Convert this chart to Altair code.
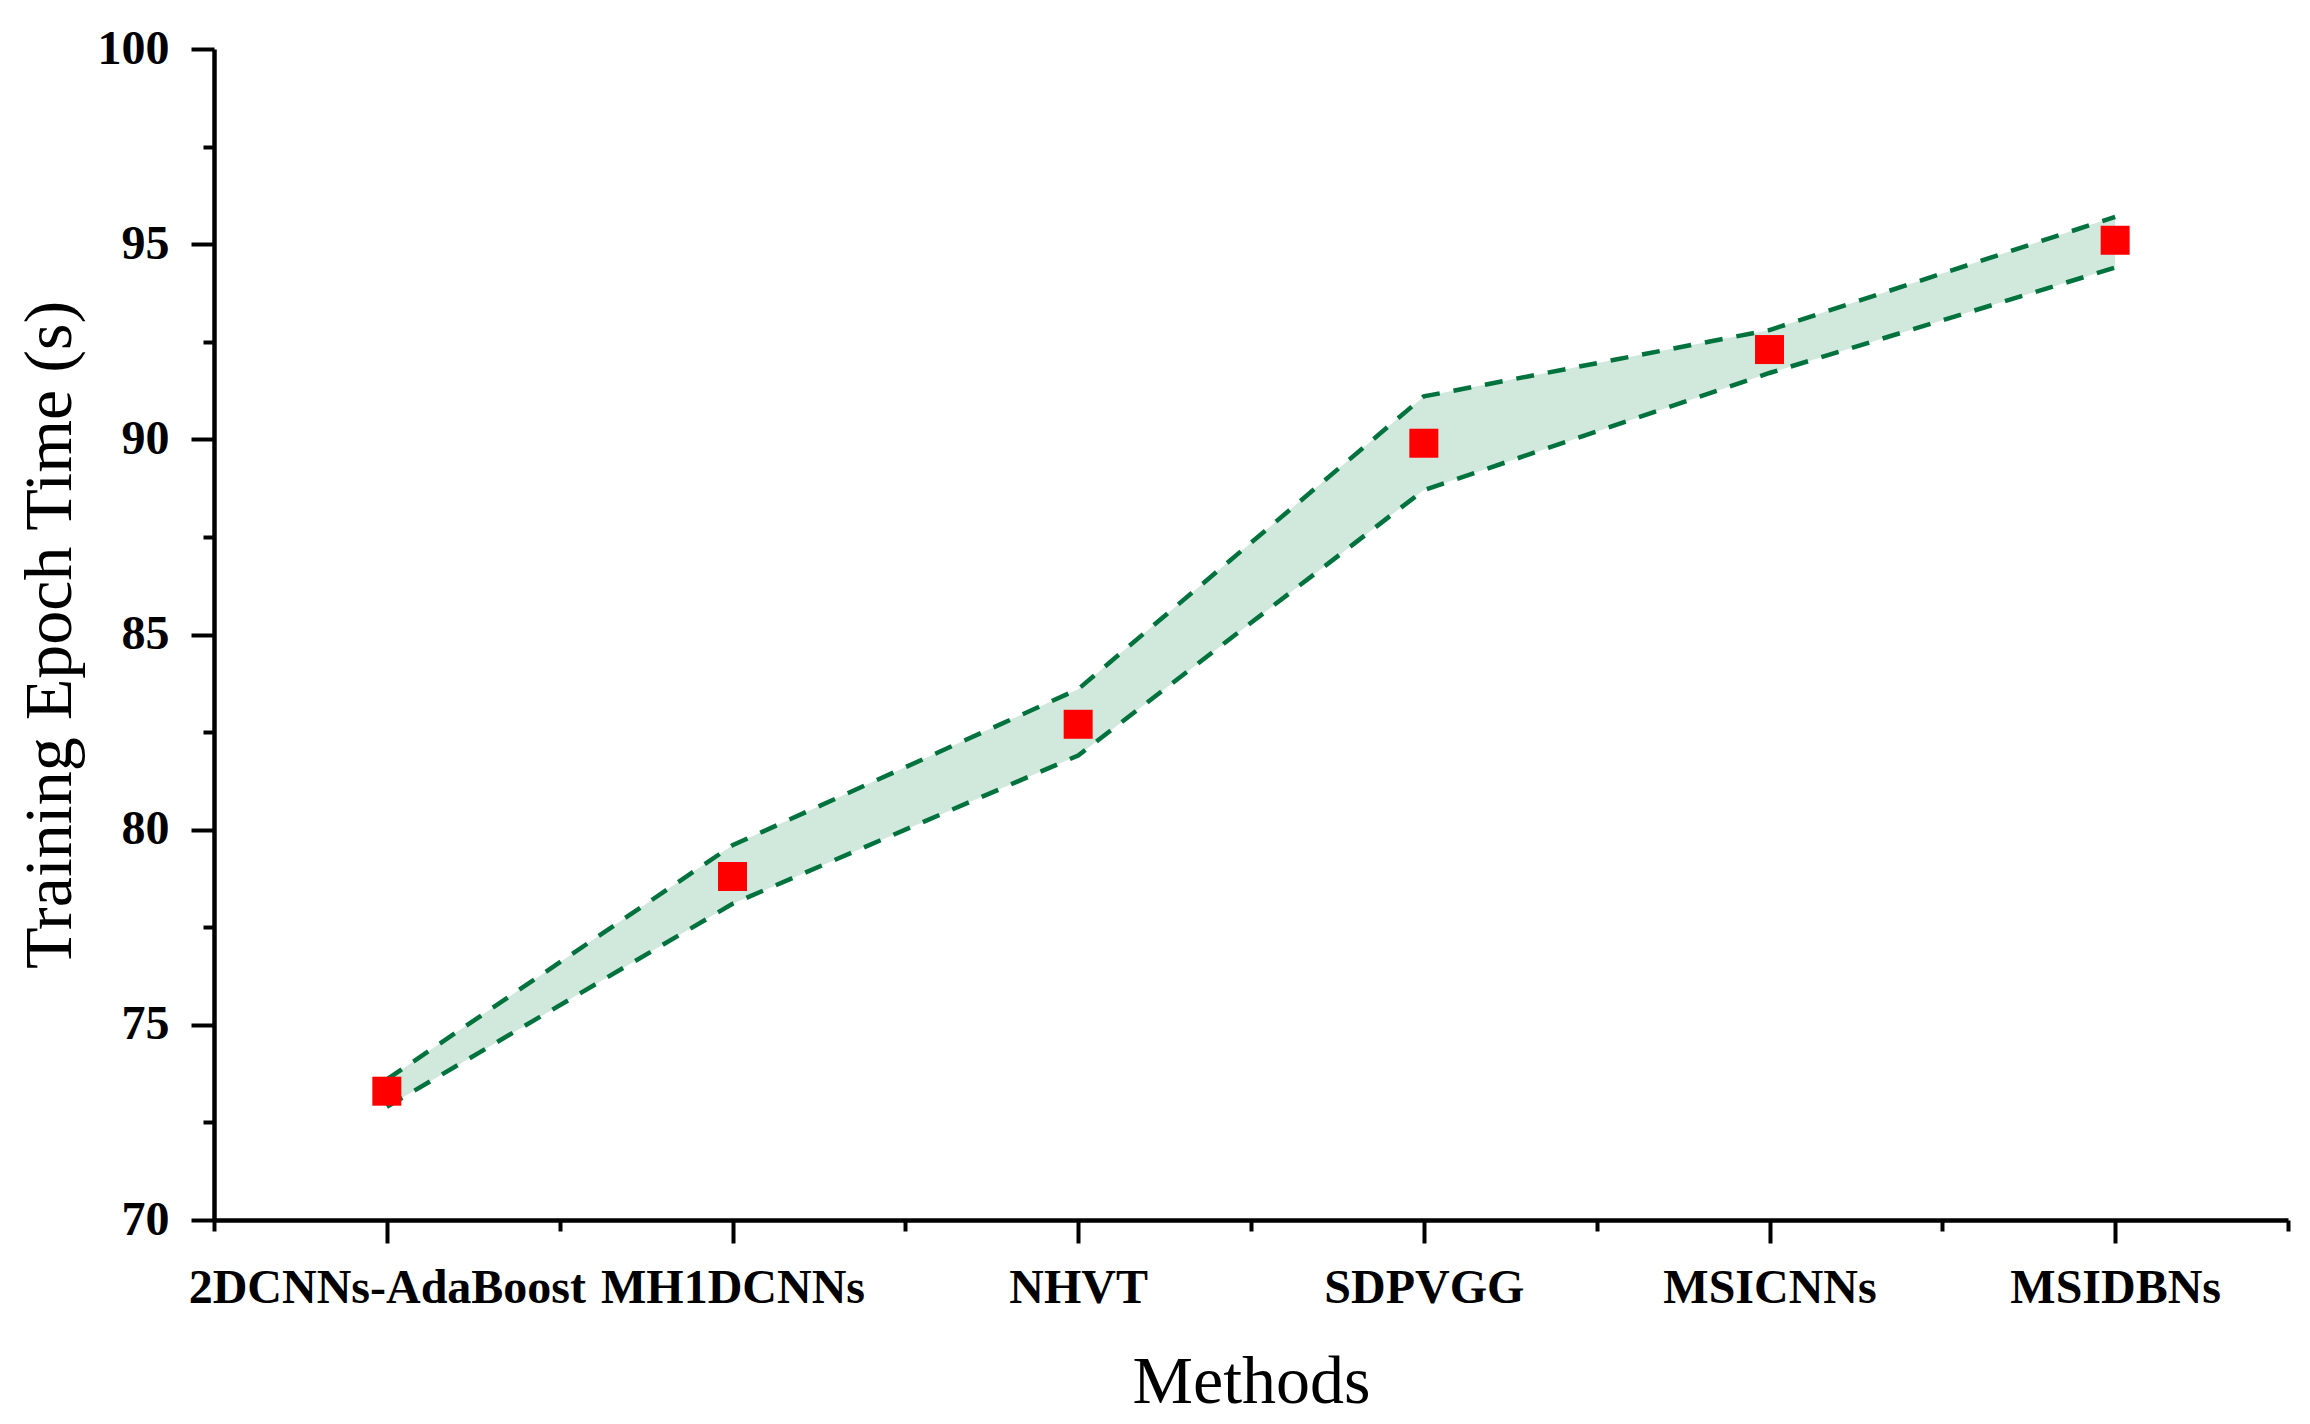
import altair as alt
import pandas as pd

methods = ["2DCNNs-AdaBoost", "MH1DCNNs", "NHVT", "SDPVGG", "MSICNNs", "MSIDBNs"]
epoch_time = [73.3, 78.8, 82.7, 89.9, 92.3, 95.1]
upper = [73.6, 79.6, 83.6, 91.1, 92.8, 95.7]
lower = [72.9, 78.1, 81.9, 88.7, 91.7, 94.4]
y_ticks = [70, 72.5, 75, 77.5, 80, 82.5, 85, 87.5, 90, 92.5, 95, 97.5, 100]
x_ticks = [-0.5, 0, 0.5, 1, 1.5, 2, 2.5, 3, 3.5, 4, 4.5, 5, 5.5]

df = pd.DataFrame({
    "idx": list(range(len(methods))),
    "method": methods,
    "time": epoch_time,
    "upper": upper,
    "lower": lower,
})

names_js = "[" + ",".join("'" + m + "'" for m in methods) + "]"

x_enc = alt.X(
    "idx:Q",
    scale=alt.Scale(domain=[-0.5, 5.5], nice=False, zero=False),
    axis=alt.Axis(
        title="Methods",
        values=x_ticks,
        labelExpr=f"datum.value % 1 === 0 ? {names_js}[datum.value] : ''",
        tickSize={"condition": {"test": "datum.value % 1 === 0", "value": 23}, "value": 11},
        labelPadding=21,
        labelFontSize=48,
        labelFontWeight="bold",
        labelFlush=False,
        labelOverlap=False,
        labelLimit=0,
        titleFontSize=68,
        titleFontWeight="normal",
        titleY=182,
        titleBaseline="alphabetic",
    ),
)

y_axis = alt.Axis(
    title="Training Epoch Time (s)",
    values=y_ticks,
    labelExpr="datum.value % 5 === 0 ? datum.label : ''",
    tickSize={"condition": {"test": "datum.value % 5 === 0", "value": 23}, "value": 11},
    labelPadding=22,
    labelFontSize=48,
    labelFontWeight="bold",
    labelLimit=0,
    titleFontSize=68,
    titleFontWeight="normal",
    titleX=-164,
    titleBaseline="middle",
    titleAngle=270,
)

y_scale = alt.Scale(domain=[70, 100], nice=False, zero=False)

band = alt.Chart(df).mark_area(color="#D1E8DC", opacity=1).encode(
    x=x_enc,
    y=alt.Y("upper:Q", scale=y_scale, axis=y_axis),
    y2="lower:Q",
)

line_up = alt.Chart(df).mark_line(color="#00723D", strokeWidth=4.5, strokeDash=[18, 14]).encode(
    x="idx:Q",
    y="upper:Q",
)
line_lo = alt.Chart(df).mark_line(color="#00723D", strokeWidth=4.5, strokeDash=[18, 14]).encode(
    x="idx:Q",
    y="lower:Q",
)

pts = alt.Chart(df).mark_point(shape="square", filled=True, size=841, color="#FF0000", opacity=1).encode(
    x="idx:Q",
    y="time:Q",
)

chart = alt.layer(band, line_up, line_lo, pts).properties(
    width=2074,
    height=1171,
    background="white",
    autosize=alt.AutoSizeParams(type="none"),
    padding={"left": 206, "top": 41, "right": 4, "bottom": 196},
).configure_view(stroke=None).configure_axis(
    grid=False,
    domainColor="black",
    domainWidth=4.5,
    tickColor="black",
    tickWidth=4,
    labelColor="black",
    titleColor="black",
    labelFont="Liberation Serif",
    titleFont="Liberation Serif",
)

chart.save("out.html", embed_options={"renderer": "svg", "actions": False})
